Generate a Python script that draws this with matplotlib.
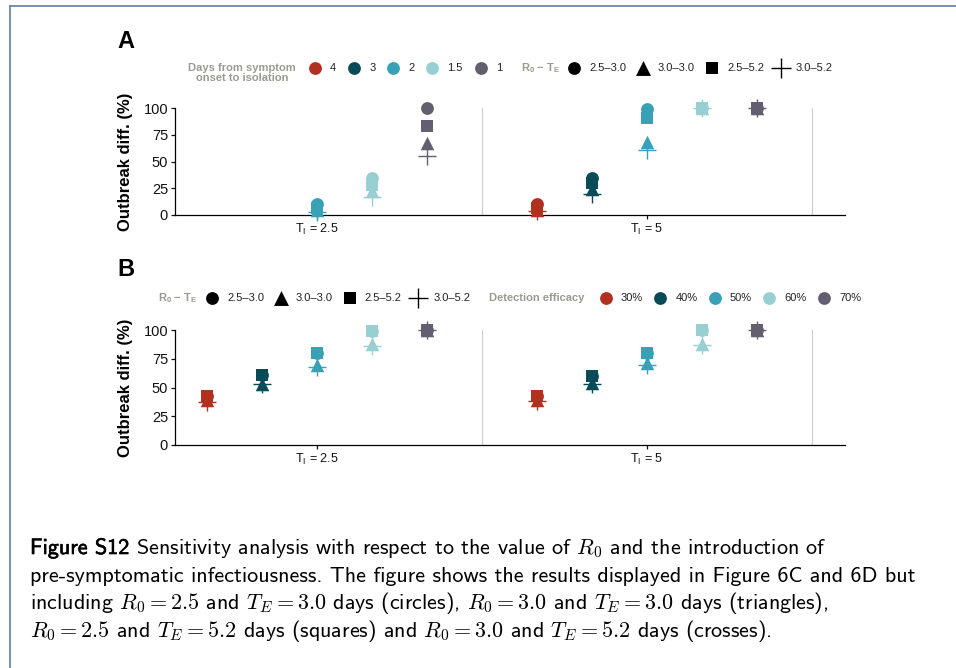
"""
Figure S12: sensitivity of outbreak difference to R0 and T_E
"""

import numpy as np
import matplotlib.pyplot as plt
from matplotlib.lines import Line2D
import matplotlib.patheffects as pe

plt.rcParams['font.family'] = ['Liberation Sans', 'DejaVu Sans']
plt.rcParams['mathtext.fontset'] = 'custom'
plt.rcParams['mathtext.rm'] = 'Liberation Sans'
plt.rcParams['mathtext.it'] = 'Liberation Sans:italic'
plt.rcParams['mathtext.bf'] = 'Liberation Sans:bold'

nan = np.nan

# categories
delays = ['4', '3', '2', '1.5', '1']
efficacy = ['30%', '40%', '50%', '60%', '70%']
scenarios = ['2.5–3.0', '3.0–3.0', '2.5–5.2', '3.0–5.2']
ti_values = ['2.5', '5']
colours = ['#b1301f', '#0a4b58', '#38a1b6', '#98cfd3', '#645e71']

# panel A: outbreak difference (%) by delay, one list per scenario
a_ti25_circle = [nan, nan, 10, 35, 100]
a_ti25_triangle = [nan, nan, 5, 22, 67]
a_ti25_square = [nan, nan, 7, 28, 83]
a_ti25_cross = [nan, nan, 3, 17, 55]
a_ti5_circle = [10, 35, 99, 100, 100]
a_ti5_triangle = [5, 24, 68, 100, 100]
a_ti5_square = [7, 30, 91, 100, 100]
a_ti5_cross = [4, 20, 61, 100, 100]

# panel B: outbreak difference (%) by detection efficacy
b_ti25_circle = [43, 61, 80, 99, 100]
b_ti25_triangle = [39, 53, 70, 88, 100]
b_ti25_square = [43, 61, 80, 99, 100]
b_ti25_cross = [37, 53, 68, 86, 100]
b_ti5_circle = [43, 60, 80, 100, 100]
b_ti5_triangle = [39, 54, 71, 88, 100]
b_ti5_square = [43, 60, 80, 100, 100]
b_ti5_cross = [38, 53, 70, 87, 100]

panel_a = [[a_ti25_circle, a_ti25_triangle, a_ti25_square, a_ti25_cross],
           [a_ti5_circle, a_ti5_triangle, a_ti5_square, a_ti5_cross]]
panel_b = [[b_ti25_circle, b_ti25_triangle, b_ti25_square, b_ti25_cross],
           [b_ti5_circle, b_ti5_triangle, b_ti5_square, b_ti5_cross]]

markers = ['o', '^', 's', '+']
msizes = [85, 95, 72, 160]
dodge = np.array([-2, -1, 0, 1, 2]) / 6.0
title_grey = '#9a9a90'


def draw_panel(ax, data):
    for g, group in enumerate(data):
        for k, vals in enumerate(group):
            x = g + 1 + dodge
            for c in range(5):
                if np.isnan(vals[c]):
                    continue
                if markers[k] == '+':
                    ax.scatter(x[c], vals[c], marker='+', s=msizes[k], color=colours[c],
                               linewidths=1.0, zorder=3, clip_on=False)
                else:
                    ax.scatter(x[c], vals[c], marker=markers[k], s=msizes[k], color=colours[c],
                               linewidths=0, zorder=3, clip_on=False)
    for xv in [1.5, 2.5]:
        ax.axvline(xv, color='#cccccc', linewidth=0.8, zorder=1)
    ax.set_xlim(0.57, 2.6)
    ax.set_ylim(0, 100)
    ax.set_yticks([0, 25, 50, 75, 100])
    ax.set_xticks([1, 2])
    ax.set_xticklabels([r'T$_\mathrm{I}$ = ' + v for v in ti_values], fontsize=9)
    ax.tick_params(axis='y', labelsize=10.5, length=3, width=0.9, pad=2, colors='#111111')
    ax.tick_params(axis='x', length=3, width=0.9, pad=2, colors='#111111')
    for side in ['top', 'right']:
        ax.spines[side].set_visible(False)
    for side in ['left', 'bottom']:
        ax.spines[side].set_linewidth(0.9)
    ax.set_ylabel('Outbreak diff. (%)', fontsize=12, weight='bold')
    ax.yaxis.set_label_coords(-0.062, 0.5)


def legend_items(ov, x0, y, step, labels, cols, marks, sizes):
    for i, lab in enumerate(labels):
        xm = x0 + i * step
        if marks[i] == '+':
            ov.scatter(xm, y, marker='+', s=sizes[i], color=cols[i], linewidths=1.0)
        else:
            ov.scatter(xm, y, marker=marks[i], s=sizes[i], color=cols[i], linewidths=0)
        ov.text(xm + 15, y, lab, fontsize=8, va='center', ha='left', color='#222222')


fig = plt.figure(figsize=(9.56, 6.68), dpi=100)

ax_a = fig.add_axes([175 / 956, 1 - 215 / 668, 670 / 956, 107 / 668])
ax_b = fig.add_axes([175 / 956, 1 - 445 / 668, 670 / 956, 115 / 668])
draw_panel(ax_a, panel_a)
draw_panel(ax_b, panel_b)

# overlay in pixel coordinates for legends, labels, border and caption
ov = fig.add_axes([0, 0, 1, 1])
ov.set_xlim(0, 956)
ov.set_ylim(668, 0)
ov.axis('off')

# page border
ov.add_line(Line2D([10, 956], [6, 6], color='#6d86a8', linewidth=1.3))
ov.add_line(Line2D([10, 10], [6, 668], color='#6d86a8', linewidth=1.3))

ov.text(117, 42, 'A', fontsize=17, weight='bold', va='center', ha='left')
ov.text(117, 270, 'B', fontsize=17, weight='bold', va='center', ha='left')

# legend A
ov.text(242, 73, 'Days from symptom\nonset to isolation', fontsize=8, weight='bold',
        color=title_grey, ha='center', va='center', linespacing=1.0)
legend_items(ov, 315, 68, 39.2, delays[:3], colours[:3], ['o'] * 3, [85] * 3)
legend_items(ov, 432, 68, 49, delays[3:], colours[3:], ['o'] * 2, [85] * 2)
ov.text(521, 68, r'R$_\mathbf{0}$ − T$_\mathbf{E}$', fontsize=8, weight='bold',
        color=title_grey, va='center', ha='left')
legend_items(ov, 574, 68, 69, scenarios, ['black'] * 4, markers, [85, 115, 80, 190])

# legend B
ov.text(158, 298, r'R$_\mathbf{0}$ − T$_\mathbf{E}$', fontsize=8, weight='bold',
        color=title_grey, va='center', ha='left')
legend_items(ov, 212, 298, 68.8, scenarios, ['black'] * 4, markers, [85, 115, 80, 190])
ov.text(489, 298, 'Detection efficacy', fontsize=8, weight='bold',
        color=title_grey, va='center', ha='left')
legend_items(ov, 606, 298, 54.5, efficacy, colours, ['o'] * 5, [85] * 5)

# caption
cap_font = ['cmss10', 'DejaVu Sans']
cap_size = 15.9
cap_lines = [
    r' Sensitivity analysis with respect to the value of $R_0$ and the introduction of',
    r'pre-symptomatic infectiousness. The figure shows the results displayed in Figure 6C and 6D but',
    r'including $R_0 = 2.5$ and $T_E = 3.0$ days (circles), $R_0 = 3.0$ and $T_E = 3.0$ days (triangles),',
    r'$R_0 = 2.5$ and $T_E = 5.2$ days (squares) and $R_0 = 3.0$ and $T_E = 5.2$ days (crosses).',
]
t0 = ov.text(30, 554, 'Figure S12', fontsize=cap_size, family=cap_font, va='baseline', ha='left',
             path_effects=[pe.withStroke(linewidth=0.45, foreground='black')])
fig.canvas.draw()
bb = t0.get_window_extent()
ov.text(bb.x1, 554, cap_lines[0], fontsize=cap_size, family=cap_font, va='baseline',
        ha='left', math_fontfamily='cm')
for i, line in enumerate(cap_lines[1:]):
    ov.text(30, 582 + i * 27.5, line, fontsize=cap_size, family=cap_font, va='baseline',
            ha='left', math_fontfamily='cm')

fig.savefig('out.png', dpi=100)
